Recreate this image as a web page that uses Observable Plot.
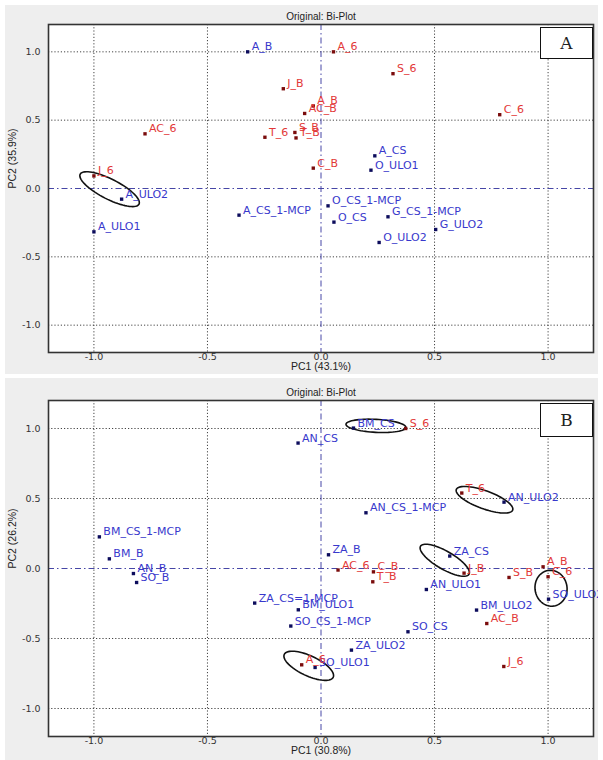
<!DOCTYPE html>
<html><head><meta charset="utf-8">
<script src="https://cdn.jsdelivr.net/npm/d3@7"></script>
<script src="https://cdn.jsdelivr.net/npm/@observablehq/plot@0.6"></script>
<style>
body{margin:0;background:#fff;}
#root{position:relative;width:603px;height:760px;overflow:hidden;}
.panel{position:absolute;left:5px;width:593px;background:#eeeeee;overflow:hidden;}
.tag{position:absolute;background:#fff;border:1.5px solid #111;box-sizing:border-box;font-family:"DejaVu Serif","Liberation Serif",serif;font-size:17px;display:flex;align-items:center;justify-content:center;color:#222;}
</style></head>
<body><div id="root"></div>
<script>
// ---------- Panel A data ----------
const titleA = "Original: Bi-Plot";
const xLabelA = "PC1 (43.1%)";
const yLabelA = "PC2 (35.9%)";
const namesA = ["A_B","A_6","J_B","S_6","A_B","AC_B","C_6","AC_6","T_6","S_B","T_B","C_B","A_CS","O_ULO1","J_6","A_ULO2","A_ULO1","A_CS_1-MCP","O_CS_1-MCP","O_CS","G_CS_1-MCP","G_ULO2","O_ULO2"];
const kindA  = ["b","r","r","r","r","r","r","r","r","r","r","r","b","b","r","b","b","b","b","b","b","b","b"];
const pc1A = [-0.323,0.055,-0.166,0.317,-0.034,-0.072,0.787,-0.775,-0.247,-0.115,-0.11,-0.034,0.237,0.22,-1.0,-0.878,-1.0,-0.361,0.031,0.057,0.295,0.505,0.256];
const pc2A = [1.0,1.0,0.73,0.84,0.604,0.549,0.54,0.40,0.375,0.41,0.37,0.149,0.239,0.134,0.092,-0.078,-0.317,-0.195,-0.127,-0.246,-0.207,-0.30,-0.395];
// highlight ellipses: centre (data), semi-axes (px), angle (deg)
const ellCxA = [-0.931];
const ellCyA = [-0.005];
const ellRaA = [33];
const ellRbA = [10];
const ellAngA = [27];

// ---------- Panel B data ----------
const titleB = "Original: Bi-Plot";
const xLabelB = "PC1 (30.8%)";
const yLabelB = "PC2 (26.2%)";
const namesB = ["BM_CS","S_6","AN_CS","T_6","AN_ULO2","AN_CS_1-MCP","BM_CS_1-MCP","BM_B","ZA_B","ZA_CS","AC_6","C_B","T_B","J_B","A_B","C_6","S_B","SO_ULO2","BM_ULO2","AC_B","AN_ULO1","AN_B","SO_B","ZA_CS=1-MCP","BM_ULO1","SO_CS_1-MCP","SO_CS","ZA_ULO2","SO_ULO1","A_6","J_6"];
const kindB  = ["b","r","b","r","b","b","b","b","b","b","r","r","r","r","r","r","r","b","b","r","b","b","b","b","b","b","b","b","b","r","r"];
const pc1B = [0.143,0.373,-0.101,0.62,0.806,0.198,-0.976,-0.932,0.033,0.567,0.075,0.231,0.228,0.63,0.978,1.0,0.828,1.002,0.685,0.73,0.464,-0.826,-0.812,-0.292,-0.1,-0.133,0.383,0.134,-0.026,-0.085,0.805];
const pc2B = [1.003,1.0,0.896,0.539,0.474,0.398,0.226,0.069,0.098,0.089,-0.011,-0.024,-0.095,-0.033,0.012,-0.059,-0.064,-0.219,-0.297,-0.393,-0.15,-0.036,-0.1,-0.247,-0.295,-0.411,-0.452,-0.583,-0.707,-0.688,-0.7];
const ellCxB = [0.242,0.72,0.545,1.013,-0.054];
const ellCyB = [1.019,0.491,0.059,-0.141,-0.695];
const ellRaB = [30,30,28,18,27];
const ellRbB = [6.5,9,9,16,10];
const ellAngB = [3,20,30,80,25];

const axisTicks = [-1.0,-0.5,0.0,0.5,1.0];
const gridTicks = [-1.0,-0.5,0.5,1.0];
const zeroTicks = [0];

const textColor = {r:"#e23838", b:"#3838cc"};
const markColor = {r:"#7a0c0c", b:"#0c0c5c"};

function panel({names, kind, pc1, pc2, eCx, eCy, eRa, eRb, eAng, title, xLabel, yLabel, height, mT, mB}) {
  const W = 593, mL = 43, mR = 5;
  const kx = (W - mL - mR) / 2.4, ky = (height - mT - mB) / 2.4;
  const pts = names.map((n,i) => ({name:n, kind:kind[i], x:pc1[i], y:pc2[i]}));
  const ell = [];
  eCx.forEach((cx,i) => {
    const th = eAng[i]*Math.PI/180;
    for (let k=0;k<=72;k++){
      const t = k/72*2*Math.PI;
      const px = eRa[i]*Math.cos(t)*Math.cos(th) - eRb[i]*Math.sin(t)*Math.sin(th);
      const py = eRa[i]*Math.cos(t)*Math.sin(th) + eRb[i]*Math.sin(t)*Math.cos(th);
      ell.push({id:i, x: cx + px/kx, y: eCy[i] - py/ky});
    }
  });
  const fmt = d => d.toFixed(1);
  return Plot.plot({
    width: W, height, marginLeft: mL, marginRight: mR, marginTop: mT, marginBottom: mB,
    style: {background:"transparent", fontFamily:"DejaVu Sans, sans-serif", fontSize:"9.5px", color:"#333"},
    x: {domain:[-1.2,1.2], ticks: axisTicks, tickFormat: fmt, tickSize:0, tickPadding:1, label:null},
    y: {domain:[-1.2,1.2], ticks: axisTicks, tickFormat: fmt, tickSize:0, tickPadding:8, label:null},
    marks: [
      Plot.frame({fill:"white", stroke:"none"}),
      Plot.ruleX(gridTicks, {stroke:"#444", strokeDasharray:"1.2,2"}),
      Plot.ruleY(gridTicks, {stroke:"#444", strokeDasharray:"1.2,2"}),
      Plot.ruleX(zeroTicks, {stroke:"#4646a6", strokeDasharray:"6,3,1.5,3"}),
      Plot.ruleY(zeroTicks, {stroke:"#4646a6", strokeDasharray:"6,3,1.5,3"}),
      Plot.line(ell, {x:"x", y:"y", z:"id", stroke:"#111", strokeWidth:1.6, curve:"linear"}),
      Plot.dot(pts, {x:"x", y:"y", symbol:"square", r:1.9, fill:d=>markColor[d.kind], stroke:"none"}),
      Plot.text(pts, {x:"x", y:"y", text:"name", dx:4, dy:-5, textAnchor:"start", fill:d=>textColor[d.kind], fontSize:11, fontFamily:"DejaVu Sans, sans-serif"}),
      Plot.frame({stroke:"#333", strokeWidth:1.6}),
      Plot.text([title], {text:d=>d, frameAnchor:"top", dy:-12, fill:"#222", fontSize:10, fontFamily:"Liberation Sans, Arial, sans-serif"}),
      Plot.text([xLabel], {text:d=>d, frameAnchor:"bottom", dy:17, fill:"#222", fontSize:10.5, fontFamily:"Liberation Sans, Arial, sans-serif"}),
      Plot.text([yLabel], {text:d=>d, frameAnchor:"left", dx:-36, rotate:-90, fill:"#222", fontSize:10.5, fontFamily:"Liberation Sans, Arial, sans-serif"})
    ]
  });
}

const root = document.getElementById("root");
function addPanel(top, h, svg) {
  const d = document.createElement("div");
  d.className = "panel"; d.style.top = top + "px"; d.style.height = h + "px";
  d.appendChild(svg); root.appendChild(d);
}
function addTag(txt, left, top, w, h) {
  const t = document.createElement("div");
  t.className = "tag"; t.textContent = txt;
  Object.assign(t.style, {left:left+"px", top:top+"px", width:w+"px", height:h+"px"});
  root.appendChild(t);
}
addPanel(5, 369, panel({names:namesA, kind:kindA, pc1:pc1A, pc2:pc2A, eCx:ellCxA, eCy:ellCyA, eRa:ellRaA, eRb:ellRbA, eAng:ellAngA, title:titleA, xLabel:xLabelA, yLabel:yLabelA, height:369, mT:19, mB:22}));
addPanel(378, 382, panel({names:namesB, kind:kindB, pc1:pc1B, pc2:pc2B, eCx:ellCxB, eCy:ellCyB, eRa:ellRaB, eRb:ellRbB, eAng:ellAngB, title:titleB, xLabel:xLabelB, yLabel:yLabelB, height:382, mT:22, mB:24}));
addTag("A", 540, 27, 53, 32);
addTag("B", 540, 403, 53, 34);
</script>
</body></html>
